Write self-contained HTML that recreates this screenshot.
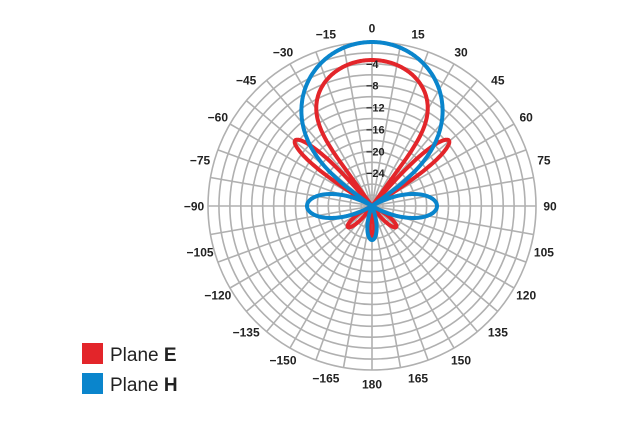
<!DOCTYPE html>
<html><head><meta charset="utf-8"><style>
body{margin:0;background:#fff;}
svg{display:block;font-family:"Liberation Sans",Arial,sans-serif;}
</style></head><body>
<svg id="s" width="640" height="421" viewBox="0 0 640 421" xmlns="http://www.w3.org/2000/svg">
<g id="grid" stroke="#b0b0b0" stroke-width="1.6" fill="none"></g>
<g id="lab" font-size="12" font-weight="bold" fill="#222" text-anchor="middle"></g>
<path id="red" fill="none" stroke="#e3252a" stroke-width="4" stroke-linejoin="round"/>
<path id="blue" fill="none" stroke="#0a85cc" stroke-width="4" stroke-linejoin="round"/>
<g id="db" font-size="11" font-weight="bold" fill="#222"></g>
<rect x="82" y="343" width="21" height="21" fill="#e3252a"/>
<rect x="82" y="373" width="21" height="21" fill="#0a85cc"/>
<text x="110" y="361" font-size="19" fill="#222">Plane <tspan font-weight="bold">E</tspan></text>
<text x="110" y="391" font-size="19" fill="#222">Plane <tspan font-weight="bold">H</tspan></text>
</svg>
<script>
var cx=372,cy=206,R=164,NS="http://www.w3.org/2000/svg";
function el(t,a,p){var e=document.createElementNS(NS,t);for(var k in a)e.setAttribute(k,a[k]);p.appendChild(e);return e;}
var g=document.getElementById('grid');
for(var i=1;i<=15;i++)el('circle',{cx:cx,cy:cy,r:R*i/15},g);
for(var a=0;a<360;a+=10){var t=a*Math.PI/180;
el('line',{x1:cx,y1:cy,x2:cx+R*Math.sin(t),y2:cy-R*Math.cos(t)},g);}
var L=document.getElementById('lab');
for(var a=-165;a<=180;a+=15){var t=a*Math.PI/180,rr=178;
var x=cx+rr*Math.sin(t),y=cy-rr*Math.cos(t)+4.5;
var e=el('text',{x:x,y:y},L);e.textContent=(a<0?'\u2212'+(-a):''+a);}
var D=document.getElementById('db');
[4,8,12,16,20,24].forEach(function(d){var e=el('text',{x:366,y:cy-R*(30-d)/30+4},D);e.textContent='\u2212'+d;});
function lobe(th,c,w,A,p){var d=th-c;while(d>180)d-=360;while(d<-180)d+=360;if(Math.abs(d)>=w)return 0;return A*Math.pow(Math.cos(d*Math.PI/2/w),p);}
function path(f){var s='';for(var a=0;a<=360;a+=0.25){var r=f(a),t=a*Math.PI/180;s+=(a?'L':'M')+(cx+r*Math.sin(t)).toFixed(1)+','+(cy-r*Math.cos(t)).toFixed(1);}return s+'Z';}
document.getElementById('blue').setAttribute('d',path(function(a){
return Math.max(lobe(a,0,54,164,0.45),lobe(a,90,30,65,1),lobe(a,270,30,65,1),lobe(a,180,22,34,1));}));
document.getElementById('red').setAttribute('d',path(function(a){
return Math.max(lobe(a,0,36,146,0.2),lobe(a,49.5,8,101,0.45),lobe(a,310.5,8,101,0.45),lobe(a,131,14,32,0.8),lobe(a,229,14,32,0.8),lobe(a,180,9,31,0.6));}));
</script>
</body></html>
